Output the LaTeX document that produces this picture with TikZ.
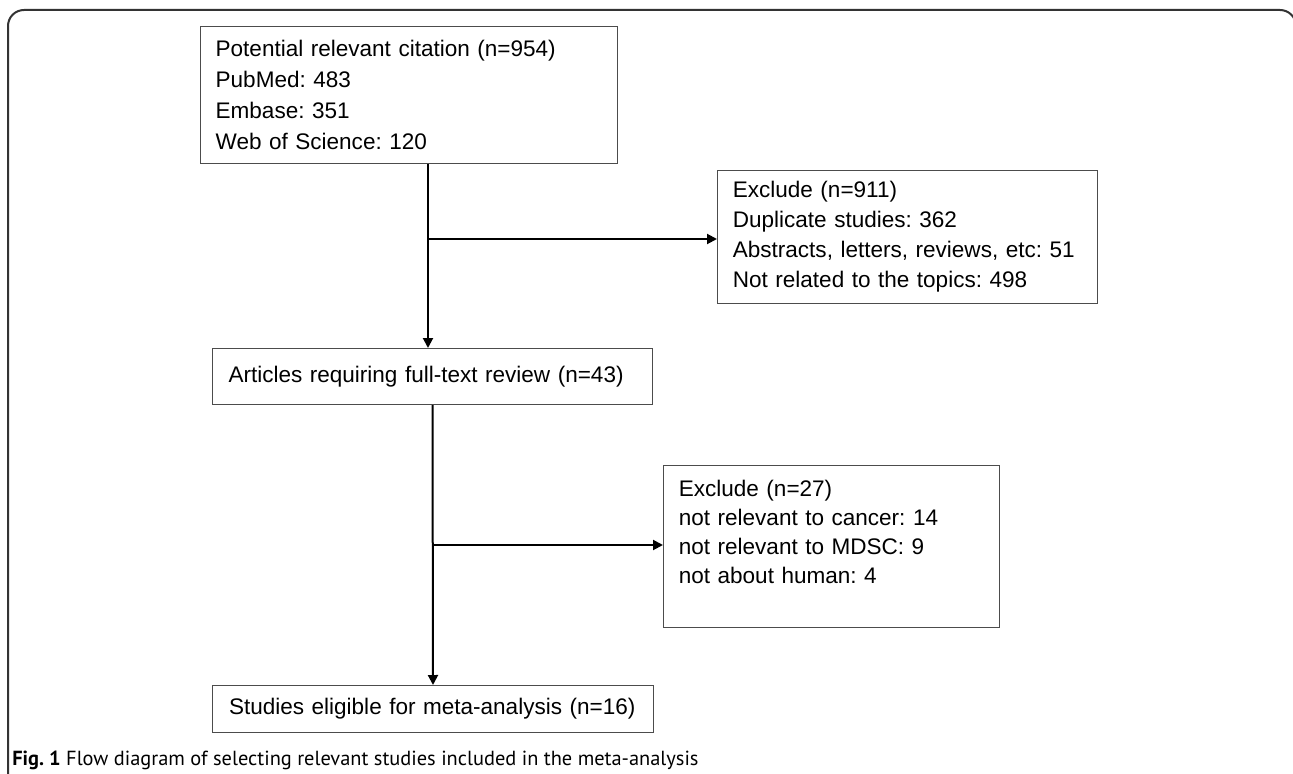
\documentclass[tikz,border=0pt]{standalone}
\usepackage{fontspec}
\setmainfont{Liberation Sans}
\newfontfamily\capfont{PT Sans}
\usetikzlibrary{arrows.meta,calc}
\frenchspacing
\tikzset{
  box/.style={draw=black!70, line width=0.75pt, rectangle, anchor=north west, inner xsep=11.25pt, inner ysep=0pt,
    align=left, font=\frenchspacing\fontsize{16.9pt}{23.25pt}\selectfont},
  conn/.style={line width=1.5pt, black},
  arr/.style={conn, -{Triangle[length=7.5pt,width=7.5pt]}},
  frame/.style={draw=black!80, line width=1.5pt, rounded corners=12pt}
}
\begin{document}
\begin{tikzpicture}[x=0.75pt,y=-0.75pt]
\useasboundingbox (0,0) rectangle (1293,774);
\begin{scope}
\clip (0,0) rectangle (1293,774);
\draw[frame] (8,10) rectangle (1296,800);
\end{scope}

\node[box, minimum width=312.75pt, minimum height=102.75pt, text width=290pt] (b1) at (200,26)
  {Potential relevant citation (n=954)\\PubMed: 483\\Embase: 351\\Web of Science: 120};
\node[box, minimum width=285pt, minimum height=99.75pt, text width=262pt, font=\frenchspacing\fontsize{16.9pt}{22.5pt}\selectfont] (b2) at (717,170)
  {Exclude (n=911)\\Duplicate studies: 362\\Abstracts, letters, reviews, etc: 51\\Not related to the topics: 498};
\node[box, minimum width=330pt, minimum height=42pt, inner xsep=12pt, text width=306pt] (b3) at (212,348)
  {Articles requiring full-text review (n=43)};
\node[box, minimum width=252pt, minimum height=121.5pt, text width=229pt, font=\frenchspacing\fontsize{16.9pt}{21.75pt}\selectfont] (b5) at (663,465)
  {Exclude (n=27)\\not relevant to cancer: 14\\not relevant to MDSC: 9\\not about human: 4\\\mbox{}};
\node[box, minimum width=330.75pt, minimum height=35.25pt, inner xsep=12pt, text width=306pt] (b4) at (212,685)
  {Studies eligible for meta-analysis (n=16)};

\coordinate (j1) at (428,239);
\coordinate (j2) at (432,545);
\draw[arr] (b1.south -| j1) -- (b3.north -| j1);
\draw[arr] (j1) -- (b2.west |- j1);
\draw[arr] (b3.south) -- (b4.north);
\draw[arr] (j2) -- (b5.west |- j2);

\node[anchor=west, inner sep=0pt, font=\frenchspacing\capfont\fontsize{15.3pt}{17pt}\selectfont] (cap) at (12,760)
  {\textbf{Fig. 1} Flow diagram of selecting relevant studies included in the meta-analysis};
\end{tikzpicture}
\end{document}
